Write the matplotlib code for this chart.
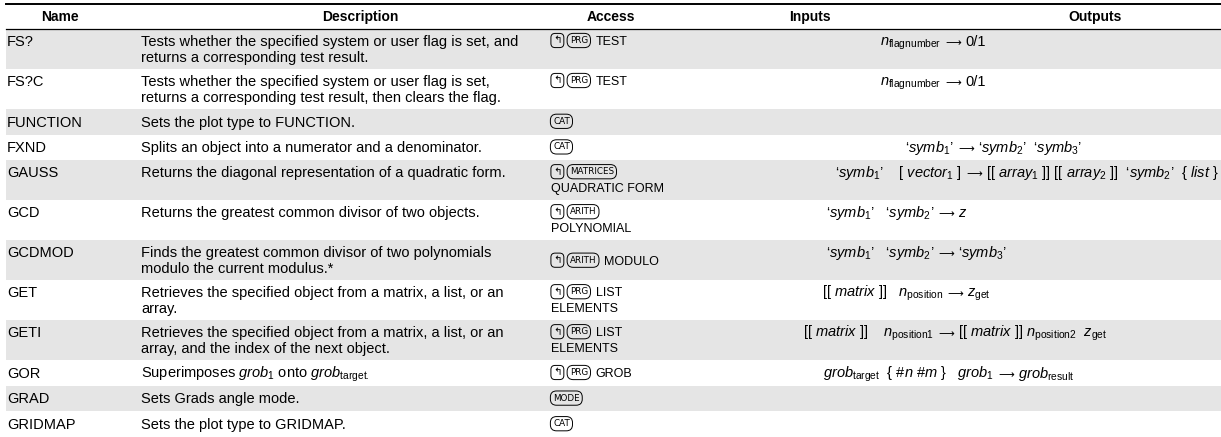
import matplotlib.pyplot as plt
from matplotlib.patches import Rectangle

plt.rcParams['font.family'] = ['Liberation Sans', 'DejaVu Sans']
plt.rcParams['mathtext.fontset'] = 'custom'
plt.rcParams['mathtext.rm'] = 'Liberation Sans'
plt.rcParams['mathtext.it'] = 'Liberation Sans:italic'
plt.rcParams['mathtext.bf'] = 'Liberation Sans:bold'

# ---- table content ----
headers = ['Name', 'Description', 'Access', 'Inputs', 'Outputs']

names = ['FS?', 'FS?C', 'FUNCTION', 'FXND', 'GAUSS', 'GCD', 'GCDMOD',
         'GET', 'GETI', 'GOR', 'GRAD', 'GRIDMAP']

descriptions = [
    'Tests whether the specified system or user flag is set, and\nreturns a corresponding test result.',
    'Tests whether the specified system or user flag is set,\nreturns a corresponding test result, then clears the flag.',
    'Sets the plot type to FUNCTION.',
    'Splits an object into a numerator and a denominator.',
    'Returns the diagonal representation of a quadratic form.',
    'Returns the greatest common divisor of two objects.',
    'Finds the greatest common divisor of two polynomials\nmodulo the current modulus.*',
    'Retrieves the specified object from a matrix, a list, or an\narray.',
    'Retrieves the specified object from a matrix, a list, or an\narray, and the index of the next object.',
    r'Superimposes $grob_1$ onto $grob_{\mathrm{target.}}$',
    'Sets Grads angle mode.',
    'Sets the plot type to GRIDMAP.',
]

access_keys = [
    ['SHIFT', 'PRG'], ['SHIFT', 'PRG'], ['CAT'], ['CAT'],
    ['SHIFT', 'MATRICES'], ['SHIFT', 'ARITH'], ['SHIFT', 'ARITH'],
    ['SHIFT', 'PRG'], ['SHIFT', 'PRG'], ['SHIFT', 'PRG'], ['MODE'], ['CAT'],
]
access_menus = ['TEST', 'TEST', '', '', '\nQUADRATIC FORM', '\nPOLYNOMIAL',
                'MODULO', 'LIST\nELEMENTS', 'LIST\nELEMENTS', 'GROB', '', '']

inputs = [
    r'$n_{\mathrm{flagnumber}}$',
    r'$n_{\mathrm{flagnumber}}$',
    '',
    r'‘$symb_1$’',
    r'‘$symb_1$’    [ $vector_1$ ]',
    r'‘$symb_1$’   ‘$symb_2$’',
    r'‘$symb_1$’   ‘$symb_2$’',
    r'[[ $matrix$ ]]   $n_{\mathrm{position}}$',
    r'[[ $matrix$ ]]    $n_{\mathrm{position1}}$',
    r'$grob_{\mathrm{target}}$  { #$n$ #$m$ }   $grob_1$',
    '',
    '',
]
outputs = [
    '0/1',
    '0/1',
    '',
    r'‘$symb_2$’  ‘$symb_3$’',
    r'[[ $array_1$ ]] [[ $array_2$ ]]  ‘$symb_2$’  { $list$ }',
    r'$z$',
    r'‘$symb_3$’',
    r'$z_{\mathrm{get}}$',
    r'[[ $matrix$ ]] $n_{\mathrm{position2}}$  $z_{\mathrm{get}}$',
    r'$grob_{\mathrm{result}}$',
    '',
    '',
]

# ---- layout (pixels) ----
W, H = 1221, 437
left = 6
header_x = [60, 360, 611, 810, 1095]
name_x, desc_x, access_x = 7, 141, 551
arrow_x = [953, 953, None, 966, 974, 946, 946, 955, 946, 1006, None, None]
access_mid = [False] * 12
access_mid[6] = True
gray = '#e5e5e5'
fs = 10.5
fs_head = 10
fs_io = 10.5
fs_menu = 9
cap = 0.716 * fs * 100 / 72
cap_menu = 0.716 * fs_menu * 100 / 72
line_step = 16

fig = plt.figure(figsize=(W / 100, H / 100), dpi=100)
ax = fig.add_axes([0, 0, 1, 1])
ax.set_xlim(0, W)
ax.set_ylim(H, 0)
ax.axis('off')
renderer = fig.canvas.get_renderer()


def draw_key(x, yc, label):
    if label == 'SHIFT':
        t = ax.text(x + 2, yc, '↰', fontsize=7.5, family='DejaVu Sans',
                    ha='left', va='center',
                    bbox=dict(boxstyle='round,pad=0.2,rounding_size=0.4',
                              fc='none', ec='black', lw=0.7))
    else:
        t = ax.text(x + 2, yc, label, fontsize=6.3, family='DejaVu Sans',
                    ha='left', va='center',
                    bbox=dict(boxstyle='round,pad=0.3,rounding_size=0.7',
                              fc='none', ec='black', lw=0.7))
    bb = t.get_window_extent(renderer)
    return x + bb.width + 8


# header
ax.axhline(4, xmin=left / W, xmax=1, color='black', lw=1.4)
ax.axhline(28.5, xmin=left / W, xmax=1, color='black', lw=0.9)
for hx, h in zip(header_x, headers):
    ax.text(hx, 16 + 0.716 * fs_head * 100 / 72 / 2, h, fontsize=fs_head,
            fontweight='bold', ha='center', va='baseline')

top = 29
for i, name in enumerate(names):
    desc_lines = descriptions[i].split('\n')
    menu_lines = access_menus[i].split('\n')
    n = max(len(desc_lines), len(menu_lines))
    h = 11.2 + 14.4 * n
    if i % 2 == 0:
        ax.add_patch(Rectangle((left, top), W - left, h, color=gray, lw=0))
    first = top + (h - (n - 1) * line_step) / 2 - 0.5

    ax.text(name_x, first + cap / 2, name, fontsize=fs, va='baseline')
    for k, ln in enumerate(desc_lines):
        ax.text(desc_x, first + k * line_step + cap / 2, ln,
                fontsize=fs, va='baseline')

    # access column
    ya = top + h / 2 if access_mid[i] else first
    x = access_x
    for key in access_keys[i]:
        x = draw_key(x, ya, key)
    if menu_lines[0]:
        ax.text(x + 2, ya + cap_menu / 2, menu_lines[0], fontsize=fs_menu,
                va='baseline')
    for k, ln in enumerate(menu_lines[1:], start=1):
        ax.text(access_x, ya + k * line_step + cap_menu / 2, ln,
                fontsize=fs_menu, va='baseline')

    # inputs -> outputs
    if arrow_x[i] is not None:
        yb = first + cap / 2
        ax.text(arrow_x[i] - 12, yb, inputs[i], fontsize=fs_io, ha='right',
                va='baseline')
        ax.text(arrow_x[i], yb, '⟶', fontsize=fs_io * 0.75,
                family='DejaVu Sans', ha='center', va='baseline')
        ax.text(arrow_x[i] + 12, yb, outputs[i], fontsize=fs_io, ha='left',
                va='baseline')
    top += h

fig.savefig('out.png', dpi=100)
